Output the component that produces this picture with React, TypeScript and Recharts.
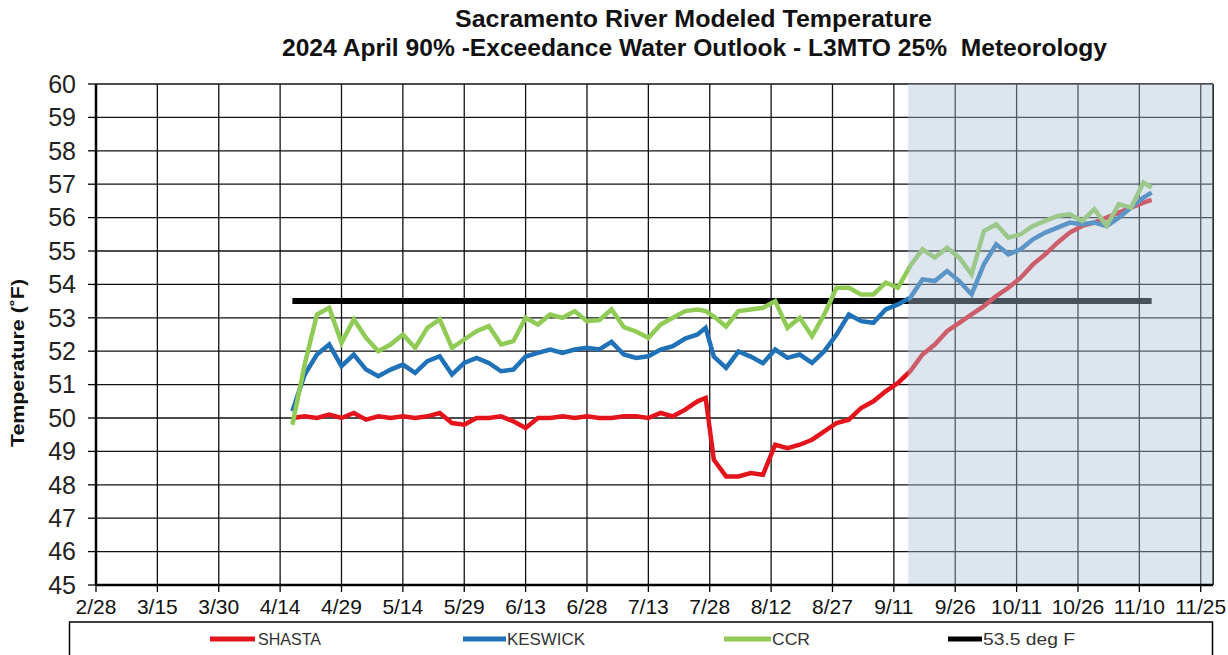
import React from 'react';
import { LineChart, Line, XAxis, YAxis, CartesianGrid, ReferenceArea, ReferenceLine } from 'recharts';

// x is "days after 2/28" (the source chart counts 15-day ticks)
const tickDays = [0, 15, 30, 45, 60, 75, 90, 105, 120, 135, 150, 165, 180, 195, 210, 225, 240, 255, 270];
const tickLabels = ['2/28', '3/15', '3/30', '4/14', '4/29', '5/14', '5/29', '6/13', '6/28', '7/13', '7/28', '8/12', '8/27', '9/11', '9/26', '10/11', '10/26', '11/10', '11/25'];
const tempTicks = [45, 46, 47, 48, 49, 50, 51, 52, 53, 54, 55, 56, 57, 58, 59, 60];

const days = [
  48, 51, 54, 57, 60, 63, 66, 69, 72, 75, 78, 81, 84, 87, 90, 93, 96, 99, 102, 105,
  108, 111, 114, 117, 120, 123, 126, 129, 132, 135, 138, 141, 144, 147, 149,
  151, 154, 157, 160, 163, 166, 169, 172, 175, 178, 181, 184, 187, 190, 193, 196, 199,
  202, 205, 208, 211, 214, 217, 220, 223, 226, 229, 232, 235, 238, 241, 244, 247, 250,
  253, 256, 258,
];

const shasta = [
  50.0, 50.05, 50.0, 50.1, 50.0, 50.15, 49.95, 50.05, 50.0, 50.05, 50.0, 50.05, 50.15, 49.85, 49.8, 50.0, 50.0, 50.05, 49.9, 49.7,
  50.0, 50.0, 50.05, 50.0, 50.05, 50.0, 50.0, 50.05, 50.05, 50.0, 50.15, 50.05, 50.25, 50.5, 50.6,
  48.75, 48.25, 48.25, 48.35, 48.3, 49.2, 49.1, 49.2, 49.35, 49.6, 49.85, 49.95, 50.3, 50.5, 50.8, 51.05, 51.4,
  51.9, 52.2, 52.6, 52.85, 53.1, 53.35, 53.65, 53.9, 54.2, 54.6, 54.9, 55.25, 55.55, 55.75, 55.85, 56.0, 56.15,
  56.3, 56.45, 56.53,
];

const keswick = [
  50.2, 51.3, 51.9, 52.2, 51.55, 51.9, 51.45, 51.25, 51.45, 51.6, 51.35, 51.7, 51.85, 51.3, 51.65, 51.8, 51.65, 51.4, 51.45, 51.84,
  51.95, 52.05, 51.95, 52.05, 52.1, 52.05, 52.28, 51.9, 51.8, 51.85, 52.05, 52.15, 52.38, 52.5, 52.7,
  51.84, 51.5, 51.99, 51.84, 51.64, 52.05, 51.8, 51.9, 51.65, 52.0, 52.5, 53.1, 52.9, 52.85, 53.25, 53.4, 53.6,
  54.15, 54.1, 54.4, 54.1, 53.7, 54.6, 55.2, 54.9, 55.05, 55.35, 55.55, 55.7, 55.85, 55.8, 55.85, 55.75, 56.0,
  56.3, 56.6, 56.75,
];

const ccr = [
  49.8, 51.6, 53.1, 53.3, 52.25, 52.95, 52.4, 52.0, 52.2, 52.5, 52.1, 52.7, 52.95, 52.1, 52.35, 52.6, 52.75, 52.2, 52.3, 53.0,
  52.8, 53.1, 53.0, 53.2, 52.9, 52.93, 53.25, 52.72, 52.59, 52.4, 52.8, 53.0, 53.2, 53.25, 53.2,
  53.04, 52.74, 53.2, 53.25, 53.3, 53.5, 52.7, 53.0, 52.45, 53.1, 53.9, 53.9, 53.7, 53.7, 54.05, 53.9, 54.55,
  55.05, 54.8, 55.1, 54.8, 54.3, 55.6, 55.8, 55.4, 55.5, 55.75, 55.9, 56.05, 56.1, 55.9, 56.25, 55.75, 56.4,
  56.3, 57.05, 56.9,
];

const criterionF = 53.5;
const outlookStartDay = 198.5;
const xMax = 273;

const data = days.map((d, i) => ({
  day: d,
  shasta: shasta[i],
  keswick: keswick[i],
  ccr: ccr[i],
  criterion: criterionF,
}));

const FONT = '"Liberation Sans", Arial, sans-serif';

const legendItems = [
  { name: 'SHASTA', color: '#e3141c', x1: 210, x2: 255, tx: 258, tw: 63 },
  { name: 'KESWICK', color: '#1f72b8', x1: 463, x2: 506, tx: 507, tw: 78 },
  { name: 'CCR', color: '#8fcb55', x1: 724, x2: 771, tx: 772, tw: 38 },
  { name: '53.5 deg F', color: '#000000', x1: 948, x2: 982, tx: 983, tw: 92 },
];

export default function App() {
  return (
    <div style={{ position: 'absolute', left: 0, top: 0, width: 1228, height: 655, background: '#fff', fontFamily: FONT }}>
      <LineChart width={1228} height={655} data={data} margin={{ top: 84, right: 15, bottom: 40, left: 36 }}>
        <CartesianGrid stroke="#111" strokeWidth={1.3} />
        <XAxis
          dataKey="day"
          type="number"
          domain={[0, xMax]}
          ticks={tickDays}
          tickFormatter={(v: number) => tickLabels[tickDays.indexOf(v)] ?? ''}
          interval={0}
          allowDataOverflow
          height={30}
          axisLine={{ stroke: '#000', strokeWidth: 2.5 }}
          tickLine={{ stroke: '#000', strokeWidth: 1.3 }}
          tickSize={7}
          tickMargin={7}
          tick={{ fill: '#111', fontSize: 21, fontFamily: FONT }}
        />
        <YAxis
          type="number"
          domain={[45, 60]}
          ticks={tempTicks}
          interval={0}
          width={60}
          axisLine={{ stroke: '#000', strokeWidth: 2.5 }}
          tickLine={{ stroke: '#000', strokeWidth: 1.3 }}
          tickSize={8}
          tickMargin={12}
          tick={{ fill: '#222', fontSize: 25, fontFamily: FONT }}
        />
        <ReferenceLine x={xMax} stroke="#111" strokeWidth={1.3} />
        <Line dataKey="criterion" stroke="#000" strokeWidth={6} dot={false} isAnimationActive={false} />
        <Line dataKey="shasta" stroke="#e3141c" strokeWidth={4.5} dot={false} isAnimationActive={false} />
        <Line dataKey="keswick" stroke="#1f72b8" strokeWidth={4.5} dot={false} isAnimationActive={false} />
        <Line dataKey="ccr" stroke="#8fcb55" strokeWidth={4.5} dot={false} isAnimationActive={false} />
        <ReferenceArea
          x1={outlookStartDay}
          x2={xMax}
          y1={45}
          y2={60}
          fill="#aec3da"
          fillOpacity={0.42}
          stroke="none"
          zIndex={450}
        />
      </LineChart>
      <svg width={1228} height={655} style={{ position: 'absolute', left: 0, top: 0, pointerEvents: 'none' }}>
        <text x={455} y={27} fontSize={24} fontWeight="bold" fill="#111" fontFamily={FONT} textLength={477} lengthAdjust="spacingAndGlyphs">
          Sacramento River Modeled Temperature
        </text>
        <text x={282} y={56} fontSize={24} fontWeight="bold" fill="#111" fontFamily={FONT} textLength={825} lengthAdjust="spacingAndGlyphs" style={{ whiteSpace: 'pre' }}>
          {'2024 April 90% -Exceedance Water Outlook - L3MTO 25%  Meteorology'}
        </text>
        <text
          transform="translate(24, 447) rotate(-90)"
          x={0}
          y={0}
          fontSize={19}
          fontWeight="bold"
          fill="#111"
          fontFamily={FONT}
          textLength={168}
          lengthAdjust="spacingAndGlyphs"
        >
          Temperature (˚F)
        </text>
        <rect x={69.5} y={622} width={1143} height={40} fill="#fff" stroke="#000" strokeWidth={1.5} />
        {legendItems.map((it) => (
          <g key={it.name}>
            <line x1={it.x1} x2={it.x2} y1={639} y2={639} stroke={it.color} strokeWidth={5} />
            <text x={it.tx} y={645} fontSize={16} fill="#333" fontFamily={FONT} textLength={it.tw} lengthAdjust="spacingAndGlyphs">
              {it.name}
            </text>
          </g>
        ))}
      </svg>
    </div>
  );
}
